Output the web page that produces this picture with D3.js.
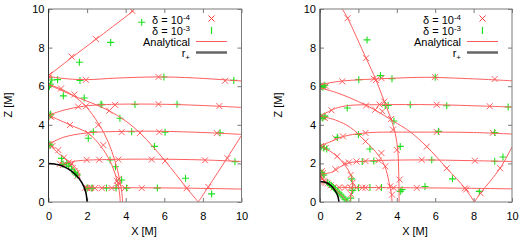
<!DOCTYPE html>
<html>
<head>
<meta charset="utf-8">
<script src="https://cdn.jsdelivr.net/npm/d3@7"></script>
<style>
  body { margin: 0; background: #fff; }
  svg { display: block; font-family: "Liberation Sans", Arial, sans-serif; }
  .tick text { font-size: 11px; fill: #000; }
</style>
</head>
<body>
<svg id="chart" width="531" height="242"></svg>
<script>
// ticks / labels
const xTicks = [0, 2, 4, 6, 8, 10];
const zTicks = [0, 2, 4, 6, 8, 10];
const legendRows = [
  {label: "δ = 10", sup: "-4", type: "cross"},
  {label: "δ = 10", sup: "-3", type: "bar"},
  {label: "Analytical", type: "line"},
  {label: "r", sub: "+", type: "horizon"}
];

// ---- left panel (r+ = 2) ----
const leftRays = [
  [[0,6.55],[1.2,7.48],[2.45,8.42],[4.42,9.92]],
  [[0,6.5],[1,6.38],[2,6.34],[3.5,6.42],[5.7,6.48],[7.5,6.43],[10,6.27]],
  [[0,6.08],[0.85,5.7],[1.55,5.4],[2.41,5.06],[3.15,4.72],[4.0,4.2],[4.74,3.58],[5.4,2.88],[6.04,2.13],[6.6,1.44],[7.16,0.72],[7.76,0]],
  [[7.76,0],[8.28,0.78],[9.27,2.3],[10,3.45]],
  [[0,6.1],[0.7,5.83],[1.3,5.5],[1.94,4.95],[2.6,4.05],[3.1,3.1],[3.45,2.1],[3.68,1.2],[3.8,0.5],[3.84,0]],
  [[0,4.5],[0.8,4.76],[1.8,4.96],[3,5.05],[5.5,5.07],[8,5.0],[10,4.9]],
  [[0,4.5],[1.1,4.0],[2.06,3.56],[2.7,2.9],[3.19,2.12],[3.5,1.3],[3.66,0.6],[3.72,0]],
  [[0,3.0],[0.8,3.36],[2,3.58],[4,3.66],[6,3.66],[8.5,3.58],[10,3.5]],
  [[0,3.02],[0.6,2.45],[1.1,2.08],[1.55,1.55],[1.62,1.2]],
  [[0.72,1.95],[1.4,2.12],[3,2.2],[5.5,2.22],[8,2.18],[10,2.1]],
  [[1.86,0.74],[4,0.74],[7,0.72],[10,0.67]]
];
const leftHorizon = [[0,2],[0.52,1.93],[1,1.73],[1.41,1.41],[1.73,1],[1.93,0.52],[2,0]];
const leftCross = [
  [0,6.55],[0.05,6.6],[0.02,6.45],[0,6.05],[0,4.5],[0.08,4.45],[0.15,4.4],[0,3.0],[0.1,2.96],[0.2,2.9],
  [1.2,7.53],[2.45,8.45],[4.34,9.9],
  [1.94,6.33],[5.7,6.48],[9.15,6.28],
  [0.65,5.88],[1.34,5.57],[1.94,4.96],[3.15,4.73],[4.74,3.58],[6.04,2.13],[7.16,0.72],[8.28,0.78],[9.27,2.27],
  [1.54,4.94],[3.45,5.03],[5.7,5.07],[8.85,4.97],
  [1.11,3.99],[2.06,3.56],[2.58,3.99],[2.84,2.95],
  [3.79,3.62],[5.74,3.62],[8.72,3.57],
  [1.98,2.18],[3.62,2.2],[5.35,2.2],[8.11,2.16],[2.63,2.19],
  [0.51,2.69],[0.8,2.3],[0.6,1.98],[0.75,1.92],[0.9,1.95],[1.05,2.05],[1.15,1.9],[1.25,1.75],[1.35,1.6],[1.45,1.5],[1.5,1.35],[1.2,2.0],
  [1.9,0.74],[2.0,0.72],[2.1,0.7],[2.2,0.74],[2.41,0.72],[2.76,0.72],[3.27,0.72],[3.96,0.72],[4.83,0.72],
  [3.55,1.1],[3.62,0.98],[3.58,0.85],[3.65,1.2]
];
const leftPlus = [
  [0,6.05],[0.05,6.0],[0.1,6.1],[0.02,4.5],[0.1,4.55],[0.02,3.0],[0.08,2.95],
  [1.6,7.24],[3.22,8.27],[4.83,9.31],
  [0.17,6.32],[0.47,6.34],[1.63,6.3],[5.98,6.48],[9.6,6.3],
  [0.77,5.5],[1.85,5.39],[2.72,5.06],[3.7,4.34],[5.49,2.88],[7.1,1.23],[8.45,0.42],
  [2.76,5.04],[4.48,5.05],[6.66,5.06],
  [2.06,3.3],[2.32,3.64],[4.31,3.64],[6.04,3.62],[8.89,3.59],
  [0.68,2.26],[3.19,2.18],[3.47,1.83],[9.66,2.09],
  [0.75,1.95],[0.95,2.0],[1.05,1.85],[1.2,1.7],[1.35,1.55],[1.4,1.45],[1.5,1.4],
  [2.0,0.72],[2.25,0.72],[3.0,0.72],[3.5,0.72],[4.05,0.72],[5.64,0.72],[3.79,1.14]
];

// ---- right panel (r+ ~ 1) ----
const rightRays = [
  [[1.16,10],[1.44,9.52],[2.4,7.45],[2.92,6.32],[3.35,5.2],[3.7,4.3],[3.92,3.55],[4.05,2.7],[4.1,1.5],[4.12,0]],
  [[0,5.92],[1,5.62],[2,5.2],[2.9,4.75],[3.8,4.2],[4.69,3.64],[5.56,2.87],[6.6,1.75],[7.55,0.71],[8.04,0]],
  [[8.04,0],[8.37,0.47],[9.38,1.75],[10,2.85]],
  [[0,4.45],[0.8,4.25],[1.6,3.85],[2.37,3.14],[2.9,2.6],[3.2,2.2],[3.4,1.8],[3.6,1.0],[3.72,0.4],[3.75,0]],
  [[0,6.08],[0.98,6.25],[2.37,6.35],[4,6.42],[5.5,6.46],[8,6.38],[10,6.28]],
  [[0,4.45],[0.81,4.85],[1.5,5.0],[3,5.04],[6,5.04],[8.5,4.97],[10,4.92]],
  [[0,2.9],[0.6,3.15],[1.16,3.38],[2.37,3.58],[5,3.62],[8,3.6],[10,3.52]],
  [[0,2.9],[0.5,2.65],[0.9,2.35],[1.3,1.9],[1.6,1.4],[1.7,0.9],[1.62,0.4],[1.56,0]],
  [[0.05,1.45],[0.64,1.55],[1.1,1.85],[1.5,2.02],[2.37,2.12],[5,2.18],[8,2.14],[10,2.1]],
  [[0.9,0.76],[2,0.75],[4,0.74],[7,0.72],[10,0.68]],
  [[0.02,1.5],[0.12,1.25],[0.3,1.02],[0.55,0.86],[0.8,0.66],[1.1,0.36],[1.45,0]]
];
const rightHorizon = [[0,1.06],[0.35,1.0],[0.62,0.8],[0.8,0.56],[0.93,0.3],[0.99,0]];
const rightCross = [
  [0.02,6.05],[0.1,6.0],[0.2,5.95],[0.3,6.0],[0.05,4.45],[0.15,4.4],[0.25,4.35],[0.05,2.9],[0.15,2.85],[0.3,2.8],
  [0.02,1.5],[0.08,1.4],[0.05,1.3],[0.12,1.2],[0.2,1.1],[0.3,1.0],[0.1,1.6],[0.15,1.5],
  [1.44,9.52],[2.4,7.45],[2.92,6.32],[3.35,5.2],[3.25,4.7],[3.7,4.3],[3.8,3.75],[4.0,2.7],[4.15,1.16],
  [2.88,4.78],[5.56,2.87],[6.6,1.75],[7.55,0.71],[7.62,0.65],[8.37,0.45],[9.38,1.75],
  [2.37,3.14],[3.2,2.54],[3.4,1.85],[3.66,0.81],[3.75,0.38],
  [1.16,6.25],[2.8,6.39],[3.2,6.42],[5.99,6.47],[9.1,6.37],
  [0.6,4.75],[2.4,5.0],[3.1,5.05],[6.08,5.04],[8.84,4.96],
  [0.8,3.3],[1.2,3.4],[2.37,3.58],[6.08,3.63],[9.0,3.58],
  [0.8,1.7],[1.3,2.0],[1.5,2.05],[1.9,2.1],[2.37,2.12],[3.06,2.15],[5.3,2.19],[8.07,2.14],
  [1.0,0.75],[1.3,0.75],[1.6,0.74],[1.9,0.74],[2.2,0.74],[2.37,0.74],[3.06,0.73],[3.83,0.73],[5.04,0.73],
  [0.9,2.37],[1.6,1.4],[1.7,1.0],[1.62,0.4],
  [0.25,1.05],[0.4,0.95],[0.55,0.86],[0.7,0.75]
];
const rightPlus = [
  [0.05,6.0],[0.15,5.95],[0.25,6.05],[0.05,4.4],[0.15,4.35],[0.25,4.45],[0.05,2.85],[0.2,2.8],[0.35,2.75],[0.1,1.5],[0.2,1.4],
  [2.45,8.4],[3.15,6.55],[3.55,5.0],[4.18,2.88],[4.18,0.55],[3.85,4.2],
  [2.02,6.34],[3.75,6.39],[6.0,6.46],
  [1.42,4.87],[3.4,5.0],[4.7,5.04],[6.6,4.99],[9.8,4.92],
  [0.9,3.35],[2.0,3.5],[6.17,3.66],[9.1,3.6],
  [2.2,2.1],[2.8,2.12],[5.82,2.18],[9.1,2.11],[9.53,2.33],
  [6.9,1.2],[8.3,0.55],[2.6,2.75],
  [1.7,0.74],[2.0,0.74],[2.6,0.75],[3.2,0.75],[4.27,0.64],[5.47,0.8],
  [0.4,1.0],[0.5,0.92],[0.6,0.84],[0.7,0.75],[0.8,0.66],[0.9,0.56],[1.0,0.46],[1.1,0.36],[1.2,0.26],[1.3,0.15],[1.4,0.05],
  [1.65,1.2],[1.7,0.6],[1.6,0.2]
];

const panels = [
  {left: 48.5, right: 241.5, rays: leftRays, horizon: leftHorizon, cross: leftCross, plus: leftPlus, legendX: 190, zLabelX: 8},
  {left: 320, right: 512, rays: rightRays, horizon: rightHorizon, cross: rightCross, plus: rightPlus, legendX: 461, zLabelX: 278}
];
const plotTop = 9, plotBottom = 202;
const redMark = "#ff3b3b", redLine = "#ff5e5e", green = "#1ee01e";
const frame = "#7a7a7a";

const svg = d3.select("#chart");
const crossPath = "M-3,-3L3,3M-3,3L3,-3";
const plusPath = "M-3.5,0H3.5M0,-3.5V3.5";

panels.forEach((p, i) => {
  const x = d3.scaleLinear().domain([0, 10]).range([p.left, p.right]);
  const y = d3.scaleLinear().domain([0, 10]).range([plotBottom, plotTop]);
  const g = svg.append("g");

  const clipId = "clip" + i;
  svg.append("clipPath").attr("id", clipId)
    .append("rect").attr("x", p.left).attr("y", plotTop)
    .attr("width", p.right - p.left).attr("height", plotBottom - plotTop);

  // axes, gnuplot style: ticks inside, mirrored
  const ax = (axis, tr) => g.append("g").attr("transform", tr).call(axis)
    .call(s => s.select(".domain").remove())
    .call(s => s.selectAll(".tick line").attr("stroke", frame));
  ax(d3.axisBottom(x).tickValues(xTicks).tickSizeInner(-4).tickSizeOuter(0).tickPadding(10), `translate(0,${plotBottom})`);
  ax(d3.axisLeft(y).tickValues(zTicks).tickSizeInner(-4).tickSizeOuter(0).tickPadding(4), `translate(${p.left},0)`);
  ax(d3.axisTop(x).tickValues(xTicks).tickSizeInner(-4).tickSizeOuter(0).tickFormat(""), `translate(0,${plotTop})`);
  ax(d3.axisRight(y).tickValues(zTicks).tickSizeInner(-4).tickSizeOuter(0).tickFormat(""), `translate(${p.right},0)`);

  const data = g.append("g").attr("clip-path", `url(#${clipId})`);

  data.selectAll(".cross").data(p.cross).enter().append("path")
    .attr("d", crossPath)
    .attr("transform", d => `translate(${x(d[0])},${y(d[1])})`)
    .attr("stroke", redMark).attr("stroke-opacity", 0.8).attr("fill", "none");

  data.selectAll(".plus").data(p.plus).enter().append("path")
    .attr("d", plusPath)
    .attr("transform", d => `translate(${x(d[0])},${y(d[1])})`)
    .attr("stroke", green).attr("stroke-width", 1.1).attr("fill", "none");

  const line = d3.line().x(d => x(d[0])).y(d => y(d[1])).curve(d3.curveCatmullRom);
  data.selectAll(".ray").data(p.rays).enter().append("path")
    .attr("d", line).attr("fill", "none").attr("stroke", redLine).attr("stroke-width", 1);

  data.append("path").datum(p.horizon)
    .attr("d", line).attr("fill", "none").attr("stroke", "#000").attr("stroke-width", 1.5);

  // frame
  g.append("rect").attr("x", p.left).attr("y", plotTop)
    .attr("width", p.right - p.left).attr("height", plotBottom - plotTop)
    .attr("fill", "none").attr("stroke", frame);
  g.append("line").attr("x1", p.left).attr("x2", p.left).attr("y1", plotTop).attr("y2", plotBottom)
    .attr("stroke", "#333");

  // axis labels
  g.append("text").attr("x", (p.left + p.right) / 2 - 1).attr("y", 235)
    .attr("text-anchor", "middle").attr("font-size", 11).text("X [M]");
  g.append("text").attr("transform", `translate(${p.zLabelX + 4},105) rotate(-90)`)
    .attr("text-anchor", "middle").attr("font-size", 11).text("Z [M]");

  // legend
  const lg = g.append("g");
  legendRows.forEach((r, k) => {
    const by = 23.5 + k * 11;
    const t = lg.append("text").attr("x", p.legendX).attr("y", by)
      .attr("text-anchor", "end").attr("font-size", 11);
    t.append("tspan").text(r.label);
    if (r.sup) t.append("tspan").attr("dy", -4).attr("font-size", 8).text(r.sup);
    if (r.sub) t.append("tspan").attr("dy", 3).attr("font-size", 8).text(r.sub);
    const sx0 = p.legendX + 6, sx1 = p.legendX + 37, cy = by - 4;
    const cx = (sx0 + sx1) / 2;
    if (r.type === "cross") {
      lg.append("path").attr("d", crossPath).attr("transform", `translate(${cx},${cy - 1})`)
        .attr("stroke", redMark).attr("fill", "none");
    } else if (r.type === "bar") {
      lg.append("path").attr("d", "M0,-3.5V3.5").attr("transform", `translate(${cx},${cy})`)
        .attr("stroke", green).attr("stroke-width", 1.2);
    } else if (r.type === "line") {
      lg.append("line").attr("x1", sx0).attr("x2", sx1).attr("y1", cy).attr("y2", cy)
        .attr("stroke", redLine);
    } else {
      lg.append("line").attr("x1", sx0).attr("x2", sx1).attr("y1", cy).attr("y2", cy)
        .attr("stroke", "#666").attr("stroke-width", 2.5);
    }
  });
});
</script>
</body>
</html>
